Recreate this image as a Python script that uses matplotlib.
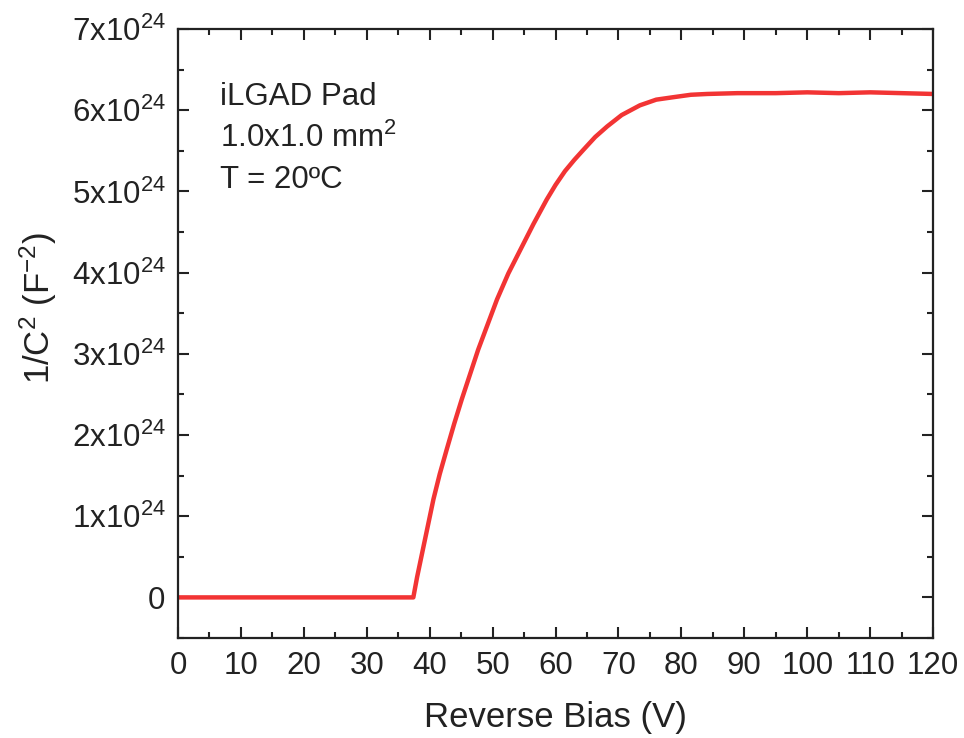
import matplotlib
matplotlib.use("Agg")
import matplotlib.pyplot as plt
from matplotlib.ticker import MultipleLocator, FuncFormatter

plt.rcParams["font.family"] = ["Liberation Sans", "DejaVu Sans"]
plt.rcParams["mathtext.default"] = "regular"

# Reverse bias (V) and 1/C^2 (units of 1e24 F^-2)
bias = [0, 37.4, 38.0, 39.0, 40.6, 41.6, 42.7, 43.9, 45.1, 47.7, 50.7, 52.5,
        54.4, 56.5, 58.6, 60.0, 61.5, 63.0, 64.4, 66.3, 68.2, 70.5, 73.4,
        76.0, 78.7, 81.5, 84.1, 88.9, 95.0, 100.0, 105.0, 110.0, 115.0, 120.0]
inv_c2 = [0, 0, 0.25, 0.62, 1.21, 1.52, 1.82, 2.14, 2.44, 3.05, 3.67, 3.99,
          4.28, 4.60, 4.90, 5.08, 5.25, 5.39, 5.51, 5.67, 5.80, 5.94, 6.06,
          6.13, 6.16, 6.19, 6.20, 6.21, 6.21, 6.22, 6.21, 6.22, 6.21, 6.20]

notes = ["iLGAD Pad", "1.0x1.0 mm$^2$", "T = 20ºC"]

fig = plt.figure(figsize=(9.64, 7.38), dpi=100)
ax = fig.add_axes([0.1846, 0.1355, 0.7834, 0.8252])

ax.plot(bias, [v * 1e24 for v in inv_c2], color="#f23434", linewidth=3.2,
        solid_joinstyle="round", solid_capstyle="round")

ax.set_xlim(0, 120)
ax.set_ylim(-0.5e24, 7e24)
ax.xaxis.set_major_locator(MultipleLocator(10))
ax.xaxis.set_minor_locator(MultipleLocator(5))
ax.yaxis.set_major_locator(MultipleLocator(1e24))
ax.yaxis.set_minor_locator(MultipleLocator(0.5e24))


def ylab(y, _):
    k = round(y / 1e24)
    if k == 0:
        return "0"
    return f"{k}x10$^{{24}}$"


ax.yaxis.set_major_formatter(FuncFormatter(ylab))
ax.tick_params(which="both", direction="in", top=True, right=True,
               labelsize=22.5, width=1.5, colors="#222222")
ax.tick_params(which="major", length=8, pad=9)
ax.tick_params(which="minor", length=4.5)
for s in ax.spines.values():
    s.set_linewidth(1.6)
    s.set_color("#222222")

ax.set_xlabel("Reverse Bias (V)", fontsize=25, color="#222222", labelpad=15)
ax.set_ylabel("1/C$^2$ (F$^{-2}$)", fontsize=25, color="#222222")
ax.yaxis.set_label_coords(-0.158, 0.542)

for i, t in enumerate(notes):
    ax.text(0.0556, 0.875 - i * 0.068, t, transform=ax.transAxes,
            fontsize=22.5, color="#222222", va="baseline")

fig.savefig("out.png", dpi=100)
